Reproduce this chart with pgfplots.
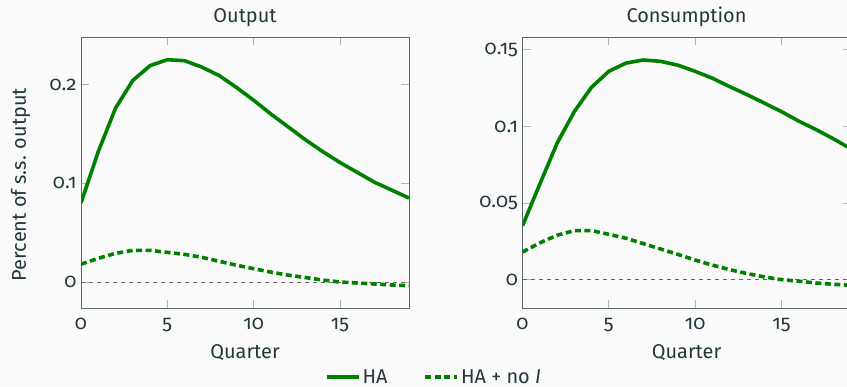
\documentclass[border=0pt]{standalone}
\usepackage{fontspec}
\setmainfont{Fira Sans}[Numbers=OldStyle]
\usepackage{pgfplots}
\pgfplotsset{compat=1.18}
\definecolor{fg}{HTML}{23373B}
\definecolor{bg}{HTML}{FAFAFA}
\definecolor{hagreen}{RGB}{0,128,0}

\pgfplotstableread{
t ha nol
0 0.080 0.018
1 0.132 0.024
2 0.176 0.029
3 0.204 0.032
4 0.219 0.032
5 0.225 0.030
6 0.224 0.028
7 0.2175 0.025
8 0.209 0.021
9 0.197 0.017
10 0.184 0.0135
11 0.170 0.010
12 0.157 0.007
13 0.144 0.0045
14 0.132 0.002
15 0.121 0.000
16 0.111 -0.001
17 0.101 -0.002
18 0.093 -0.003
19 0.085 -0.0037
}\outputdata

\pgfplotstableread{
t ha nol
0 0.0352 0.018
1 0.0623 0.024
2 0.089 0.029
3 0.1097 0.032
4 0.1256 0.032
5 0.136 0.0296
6 0.1414 0.027
7 0.1434 0.0235
8 0.1425 0.020
9 0.140 0.0165
10 0.136 0.0128
11 0.1315 0.0095
12 0.126 0.0065
13 0.1208 0.004
14 0.1153 0.0018
15 0.1097 0.000
16 0.1035 -0.001
17 0.098 -0.0022
18 0.092 -0.003
19 0.0855 -0.0037
}\consdata

\pgfplotsset{
  myaxis/.style={
    scale only axis, width=328bp, height=271bp,
    xmin=0, xmax=19, xtick={0,5,10,15},
    axis line style={fg!75, line width=0.9bp},
    tick style={gray!60, line width=0.9bp},
    major tick length=8bp,
    tick align=inside, tick pos=both,
    font=\fontsize{20}{23}\selectfont,
    /pgf/number format/assume math mode=true,
    ticklabel style={text=fg},
    yticklabel style={xshift=-1bp},
    xticklabel style={anchor=base, yshift=-21bp},
    title style={text=fg, at={(axis description cs:0.5,1)}, anchor=base, yshift=9bp},
    xlabel style={text=fg, at={(axis description cs:0.5,0)}, anchor=base, yshift=-50bp},
    ylabel style={text=fg},
  },
  solid line/.style={hagreen, line width=3.6bp},
  dash line/.style={hagreen, line width=3.6bp, dash pattern=on 6bp off 3.5bp},
  zero line/.style={gray!80!black, line width=0.8bp, dash pattern=on 4bp off 4bp},
}

\begin{document}
\begin{tikzpicture}[x=1bp,y=1bp]
\path[use as bounding box] (0,0) rectangle (847,386);
\fill[bg] (0,0) rectangle (847,386);
\clip (0,0) rectangle (847,386);
\begin{axis}[myaxis, at={(81bp,78bp)}, anchor=south west,
  ymin=-0.0263, ymax=0.248, ytick={0,0.1,0.2},
  yticklabels={0,0.1,0.2},
  title={Output}, xlabel={Quarter},
  ylabel={Percent of s.s. output},
  ylabel style={at={(axis description cs:-0.1677,0.4557)}, anchor=base},
  legend style={at={(axis description cs:1.076,-0.2546)}, anchor=center,
    draw=none, fill=none, legend columns=2, text=fg,
    /tikz/every even column/.append style={column sep=34bp}},
  legend image code/.code={\draw[#1] (0bp,0bp) -- (32bp,0bp);},
]
\addplot[zero line, forget plot] coordinates {(0,0) (19,0)};
\addplot[solid line] table[x=t, y=ha] {\outputdata};
\addlegendentry{HA}
\addplot[dash line] table[x=t, y=nol] {\outputdata};
\addlegendentry{HA + no \textit{I}}
\end{axis}
\begin{axis}[myaxis, at={(522.5bp,78bp)}, anchor=south west,
  ymin=-0.0185, ymax=0.1584, ytick={0,0.05,0.1,0.15},
  yticklabels={0,0.05,0.1,0.15},
  title={Consumption}, xlabel={Quarter},
]
\addplot[zero line] coordinates {(0,0) (19,0)};
\addplot[solid line] table[x=t, y=ha] {\consdata};
\addplot[dash line] table[x=t, y=nol] {\consdata};
\end{axis}
\end{tikzpicture}
\end{document}
